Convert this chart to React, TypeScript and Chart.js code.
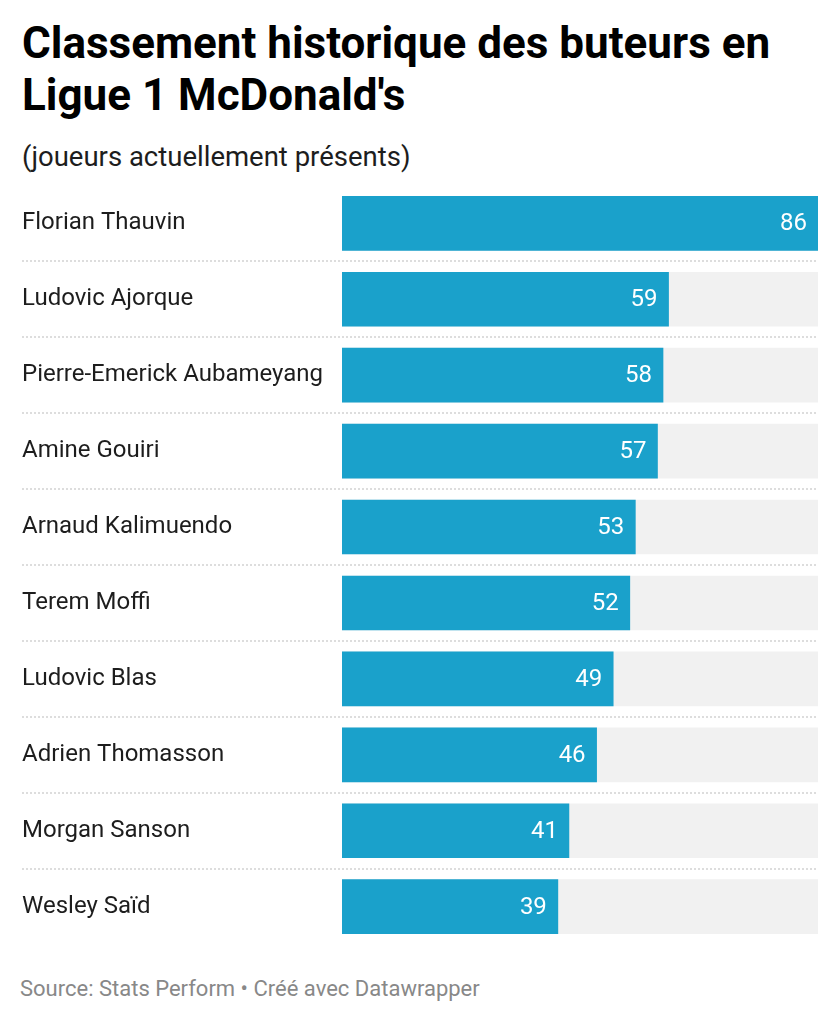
import { useRef, useEffect } from "react";
import { Chart, registerables } from "chart.js";

Chart.register(...registerables);

const players = [
  "Florian Thauvin",
  "Ludovic Ajorque",
  "Pierre-Emerick Aubameyang",
  "Amine Gouiri",
  "Arnaud Kalimuendo",
  "Terem Moffi",
  "Ludovic Blas",
  "Adrien Thomasson",
  "Morgan Sanson",
  "Wesley Saïd",
];
const goals = [86, 59, 58, 57, 53, 52, 49, 46, 41, 39];

const BAR_COLOR = "#1aa1cb";
const TRACK_COLOR = "#f1f1f1";

// dotted lines between the rows
const separatorPlugin = {
  id: "separators",
  beforeDatasetsDraw(chart: Chart) {
    const { ctx, scales } = chart;
    const y = scales.y;
    ctx.save();
    ctx.strokeStyle = "#d2d2d2";
    ctx.lineWidth = 1.5;
    ctx.setLineDash([2, 2]);
    for (let i = 0; i < players.length - 1; i++) {
      const py = Math.round((y.getPixelForValue(i) + y.getPixelForValue(i + 1)) / 2);
      ctx.beginPath();
      ctx.moveTo(22, py);
      ctx.lineTo(chart.chartArea.right, py);
      ctx.stroke();
    }
    ctx.restore();
  },
};

// value labels at the end of each bar
const valueLabelPlugin = {
  id: "valueLabels",
  afterDatasetsDraw(chart: Chart) {
    const { ctx } = chart;
    const meta = chart.getDatasetMeta(0);
    ctx.save();
    ctx.fillStyle = "#ffffff";
    ctx.font = "24px Roboto";
    ctx.textAlign = "right";
    ctx.textBaseline = "middle";
    meta.data.forEach((bar: any, i: number) => {
      ctx.fillText(String(goals[i]), bar.x - 11, bar.y + 1);
    });
    ctx.restore();
  },
};

function ScorersChart() {
  const canvasRef = useRef<HTMLCanvasElement>(null);
  const chartRef = useRef<Chart | null>(null);

  useEffect(() => {
    if (!canvasRef.current) return;
    const maxGoals = Math.max(...goals);

    chartRef.current = new Chart(canvasRef.current, {
      type: "bar",
      data: {
        labels: players,
        datasets: [
          {
            label: "Buts",
            data: goals,
            backgroundColor: BAR_COLOR,
            barThickness: 54,
            grouped: false,
            order: 0,
          },
          {
            label: "track",
            data: players.map(() => maxGoals),
            backgroundColor: TRACK_COLOR,
            barThickness: 54,
            grouped: false,
            order: 1,
          },
        ],
      },
      options: {
        indexAxis: "y",
        animation: false,
        responsive: true,
        maintainAspectRatio: false,
        layout: { padding: { left: 22, right: 22, top: 0, bottom: 0 } },
        plugins: {
          legend: { display: false },
          tooltip: { enabled: false },
        },
        scales: {
          x: {
            display: false,
            min: 0,
            max: maxGoals,
          },
          y: {
            grid: { display: false },
            border: { display: false },
            afterFit: (scale: any) => {
              scale.width = 320;
            },
            ticks: {
              crossAlign: "far",
              color: "#1d1d1d",
              font: { family: "Roboto", size: 24 },
              padding: 0,
            },
          },
        },
      },
      plugins: [separatorPlugin, valueLabelPlugin],
    });

    return () => chartRef.current?.destroy();
  }, []);

  return (
    <div style={{ position: "absolute", left: 0, top: 171, width: 840, height: 788 }}>
      <canvas ref={canvasRef} />
    </div>
  );
}

export default function App() {
  return (
    <div
      style={{
        position: "relative",
        width: 840,
        height: 1022,
        background: "#ffffff",
        fontFamily: "Roboto, sans-serif",
        overflow: "hidden",
      }}
    >
      <style>{"body{margin:0;}"}</style>
      <div
        style={{
          position: "absolute",
          left: 22,
          top: 17,
          width: 800,
          fontSize: 44,
          fontWeight: 700,
          lineHeight: "52px",
          color: "#000",
        }}
      >
        Classement historique des buteurs en Ligue 1 McDonald's
      </div>
      <div
        style={{
          position: "absolute",
          left: 22,
          top: 141,
          fontSize: 27.5,
          lineHeight: "32px",
          color: "#1d1d1d",
        }}
      >
        (joueurs actuellement présents)
      </div>
      <ScorersChart />
      <div
        style={{
          position: "absolute",
          left: 20,
          top: 976,
          fontSize: 22,
          lineHeight: "26px",
          color: "#888888",
        }}
      >
        Source: Stats Perform • Créé avec Datawrapper
      </div>
    </div>
  );
}
